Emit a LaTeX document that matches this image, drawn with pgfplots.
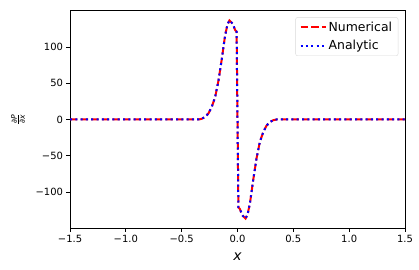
\documentclass[border=0pt]{standalone}
\usepackage{amsmath}
\usepackage{fontspec}
\setmainfont{DejaVu Sans}
\usepackage{pgfplots}
\pgfplotsset{compat=1.18}
\usepackage{pgfplotstable}
\pgfplotstableread{
x y
-1.5 0
-0.40 0
-0.35 0
-0.32 1
-0.29 3.5
-0.26 8.5
-0.23 17.5
-0.20 31
-0.17 54
-0.14 84
-0.112 115
-0.09 131
-0.072 136.5
-0.043 132
-0.02 123
-0.008 121
0.008 -121
0.02 -123
0.043 -132
0.072 -136.5
0.09 -131
0.112 -115
0.14 -84
0.17 -54
0.20 -31
0.23 -17.5
0.26 -8.5
0.29 -3.5
0.32 -1
0.35 0
0.40 0
1.5 0
}\data
\begin{document}
\begin{tikzpicture}[x=1bp,y=1bp]
\useasboundingbox (0,0) rectangle (419,270);
\begin{axis}[
  at={(70bp,41.7bp)}, anchor=south west,
  scale only axis, width=335bp, height=217.6bp,
  xmin=-1.5, xmax=1.5, ymin=-150, ymax=150,
  axis line style={line width=0.8pt},
  tick style={black, line width=0.8pt},
  tick align=outside, major tick length=3.5bp,
  xtick pos=left, ytick pos=left,
  xtick={-1.5,-1,-0.5,0,0.5,1,1.5},
  xticklabels={−1.5,−1.0,−0.5,0.0,0.5,1.0,1.5},
  ytick={-100,-50,0,50,100},
  yticklabels={−100,−50,0,50,100},
  ticklabel style={font=\fontsize{10}{12}\selectfont},
  xlabel={\textit{x}}, xlabel style={font=\fontsize{14}{16}\selectfont, yshift=-3bp},
  ylabel={$\frac{\text{∂\textit{P}}}{\text{∂\textit{x}}}$},
  ylabel style={font=\fontsize{11}{13}\selectfont, at={(axis description cs:-0.155,0.5)}, anchor=center},
  legend style={at={(0.98,0.97)}, anchor=north east, draw=black!15, rounded corners=2pt,
    font=\fontsize{12.5}{15}\selectfont, row sep=3.5pt, inner xsep=4pt, inner ysep=2.5pt},
  legend cell align=left,
  legend image code/.code={\draw[#1] (0bp,0bp) -- (25bp,0bp);},
]
\addplot[red, line width=2bp, dash pattern=on 7.4bp off 3.2bp, forget plot] table[x=x,y=y]{\data};
\addplot[blue, line width=2bp, dash pattern=on 2bp off 3.3bp, forget plot] table[x=x,y=y]{\data};
\addlegendimage{red, line width=2bp, dash pattern=on 7.4bp off 3.2bp}
\addlegendentry{Numerical}
\addlegendimage{blue, line width=2bp, dash pattern=on 2bp off 3.3bp}
\addlegendentry{Analytic}
\end{axis}
\end{tikzpicture}
\end{document}
